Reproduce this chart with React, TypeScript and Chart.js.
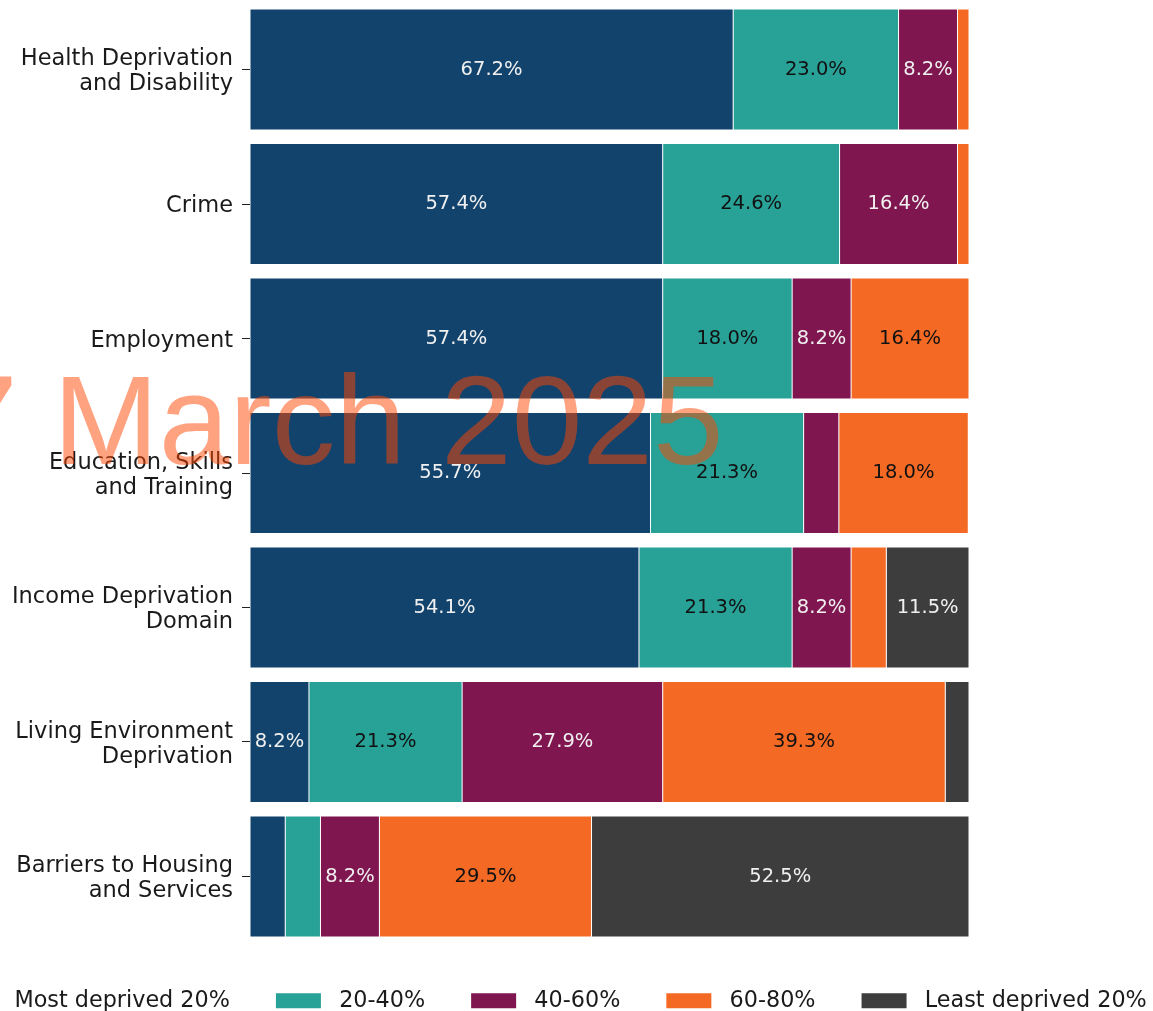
import React, { useEffect, useRef } from "react";
import { Chart, registerables } from "chart.js";

Chart.register(...registerables);

const categories: (string | string[])[] = [
  ["Health Deprivation", "and Disability"],
  "Crime",
  "Employment",
  ["Education, Skills", "and Training"],
  ["Income Deprivation", "Domain"],
  ["Living Environment", "Deprivation"],
  ["Barriers to Housing", "and Services"],
];

const seriesNames = ["Most deprived 20%", "20-40%", "40-60%", "60-80%", "Least deprived 20%"];

const mostDeprived = [67.2, 57.4, 57.4, 55.7, 54.1, 8.2, 4.9];
const quintile2 = [23.0, 24.6, 18.0, 21.3, 21.3, 21.3, 4.9];
const quintile3 = [8.2, 16.4, 8.2, 4.9, 8.2, 27.9, 8.2];
const quintile4 = [1.6, 1.6, 16.4, 18.0, 4.9, 39.3, 29.5];
const leastDeprived = [0, 0, 0, 0, 11.5, 3.3, 52.5];

const seriesValues = [mostDeprived, quintile2, quintile3, quintile4, leastDeprived];

const colors = ["#12436D", "#28A197", "#801650", "#F46A25", "#3D3D3D"];
const labelColors = ["#f0f0f0", "#111111", "#f0f0f0", "#111111", "#f0f0f0"];

const watermarkText = "7 March 2025";

const CANVAS_W = 1498;
const CANVAS_H = 1022;
const OFFSET_X = 200;

export default function App() {
  const ref = useRef<HTMLCanvasElement | null>(null);

  useEffect(() => {
    if (!ref.current) return;

    const watermark = {
      id: "watermark",
      afterDatasetsDraw(chart: any) {
        const ctx = chart.ctx;
        ctx.save();
        ctx.font = '127px "Liberation Sans"';
        ctx.fillStyle = "rgba(255,69,0,0.5)";
        ctx.textAlign = "left";
        ctx.textBaseline = "alphabetic";
        ctx.fillText(watermarkText, OFFSET_X - 53, 464);
        ctx.restore();
      },
    };

    const barLabels = {
      id: "barLabels",
      afterDatasetsDraw(chart: any) {
        const ctx = chart.ctx;
        ctx.save();
        ctx.font = '19.5px "DejaVu Sans"';
        ctx.textAlign = "center";
        ctx.textBaseline = "middle";
        chart.data.datasets.forEach((ds: any, i: number) => {
          const meta = chart.getDatasetMeta(i);
          meta.data.forEach((el: any, j: number) => {
            const v = ds.data[j];
            if (v == null || v < 6) return;
            const { x, y, base } = el.getProps(["x", "y", "base"], true);
            ctx.fillStyle = labelColors[i];
            ctx.fillText(v.toFixed(1) + "%", (x + base) / 2, y);
          });
        });
        ctx.restore();
      },
    };

    const chart = new Chart(ref.current, {
      type: "bar",
      data: {
        labels: categories as any,
        datasets: seriesNames.map((name, i) => ({
          label: name,
          data: seriesValues[i],
          backgroundColor: colors[i],
          borderColor: "rgba(255,255,255,0.8)",
          borderWidth: 0.5,
          borderSkipped: false,
          barPercentage: 0.9,
          categoryPercentage: 1.0,
        })),
      },
      options: {
        indexAxis: "y",
        responsive: false,
        animation: false,
        layout: { padding: { top: 2.3, left: 0, right: 0, bottom: 0 } },
        scales: {
          x: { stacked: true, min: 0, max: 100, display: false },
          y: {
            stacked: true,
            offset: true,
            grid: {
              display: true,
              drawOnChartArea: false,
              drawTicks: true,
              tickLength: 8,
              offset: false,
              color: "#222222",
            },
            border: { display: false },
            ticks: {
              autoSkip: false,
              padding: 9,
              labelOffset: 2.5,
              color: "#1a1a1a",
              font: { family: "DejaVu Sans", size: 22.5, lineHeight: 1.12 },
            },
            afterFit: (s: any) => {
              s.width = 450;
              s.paddingTop = 0;
              s.paddingBottom = 0;
            },
          },
          yR: {
            axis: "y",
            type: "category",
            position: "right",
            display: true,
            grid: { display: false },
            border: { display: false },
            ticks: { display: false },
            afterFit: (s: any) => {
              s.width = CANVAS_W - (969 + OFFSET_X);
              s.paddingTop = 0;
              s.paddingBottom = 0;
            },
          },
        } as any,
        plugins: {
          tooltip: { enabled: false },
          legend: {
            position: "bottom",
            labels: {
              boxWidth: 45,
              boxHeight: 15,
              padding: 46,
              color: "#1a1a1a",
              font: { family: "DejaVu Sans", size: 22.3 },
              generateLabels: (c: any) =>
                (Chart.defaults.plugins.legend.labels as any)
                  .generateLabels(c)
                  .map((l: any) => ({
                    ...l,
                    text: " " + l.text,
                    lineWidth: 0,
                    strokeStyle: "rgba(0,0,0,0)",
                  })),
            },
          },
        },
      } as any,
      plugins: [watermark, barLabels],
    });

    return () => chart.destroy();
  }, []);

  return (
    <div
      style={{
        position: "fixed",
        left: -OFFSET_X,
        top: 0,
        width: CANVAS_W,
        height: CANVAS_H,
        background: "#ffffff",
      }}
    >
      <canvas ref={ref} width={CANVAS_W} height={CANVAS_H} style={{ display: "block" }} />
    </div>
  );
}
